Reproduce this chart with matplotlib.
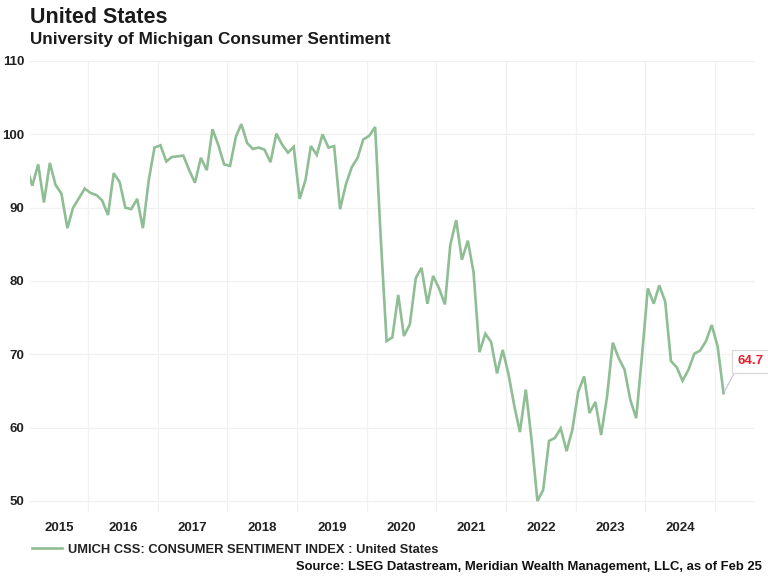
import matplotlib
matplotlib.use("Agg")
import matplotlib.pyplot as plt
import matplotlib.dates as mdates
import numpy as np
import pandas as pd

# monthly UMich consumer sentiment, Feb 2015 .. Feb 2025
start_month = "2015-02"
sentiment = [
    95.4, 93.0, 95.9, 90.7, 96.1, 93.1, 91.9, 87.2, 90.0, 91.3, 92.6,          # 2015
    92.0, 91.7, 91.0, 89.0, 94.7, 93.5, 90.0, 89.8, 91.2, 87.2, 93.8, 98.2,    # 2016
    98.5, 96.3, 96.9, 97.0, 97.1, 95.1, 93.4, 96.8, 95.1, 100.7, 98.5, 95.9,   # 2017
    95.7, 99.7, 101.4, 98.8, 98.0, 98.2, 97.9, 96.2, 100.1, 98.6, 97.5, 98.3,  # 2018
    91.2, 93.8, 98.4, 97.2, 100.0, 98.2, 98.4, 89.8, 93.2, 95.5, 96.8, 99.3,   # 2019
    99.8, 101.0, 86.0, 71.8, 72.3, 78.1, 72.5, 74.1, 80.4, 81.8, 76.9, 80.7,   # 2020
    79.0, 76.8, 84.9, 88.3, 82.9, 85.5, 81.2, 70.3, 72.8, 71.7, 67.4, 70.6,    # 2021
    67.2, 62.8, 59.4, 65.2, 58.4, 50.0, 51.5, 58.2, 58.6, 59.9, 56.8, 59.7,    # 2022
    64.9, 67.0, 62.0, 63.5, 59.0, 64.2, 71.6, 69.5, 67.9, 63.8, 61.3, 69.7,    # 2023
    79.0, 76.9, 79.4, 77.2, 69.1, 68.2, 66.4, 67.9, 70.1, 70.5, 71.8, 74.0,    # 2024
    71.1, 64.7,                                                                # 2025
]
years = list(range(2015, 2025))
yticks = [50, 60, 70, 80, 90, 100, 110]

title = "United States"
subtitle = "University of Michigan Consumer Sentiment"
series_label = "UMICH CSS: CONSUMER SENTIMENT INDEX : United States"
source = "Source: LSEG Datastream, Meridian Wealth Management, LLC, as of Feb 25"

line_color = "#8fbd94"
grid_color = "#f1f1f1"
plt.rcParams["font.family"] = ["Liberation Sans", "DejaVu Sans"]

dates = pd.date_range(start_month, periods=len(sentiment), freq="MS") + pd.Timedelta(days=14)

fig = plt.figure(figsize=(7.68, 5.77), dpi=100)
ax = fig.add_axes([30 / 768, 1 - 512 / 577, 725 / 768, 451 / 577])

ax.plot(dates, sentiment, color=line_color, lw=1.9, solid_joinstyle="miter", zorder=3)

ax.set_xlim(pd.Timestamp("2015-03-03"), pd.Timestamp("2025-07-30"))
ax.set_ylim(48.5, 110)

# gridlines at year boundaries, labels centred in each visible year
ax.xaxis.set_major_locator(mdates.YearLocator(1))
ax.xaxis.set_major_formatter(plt.NullFormatter())
xl = mdates.num2date(ax.get_xlim()[0]).replace(tzinfo=None)
centres = []
for y in years:
    a = max(pd.Timestamp(f"{y}-01-01"), pd.Timestamp(xl))
    b = pd.Timestamp(f"{y + 1}-01-01")
    centres.append(a + (b - a) / 2)
ax.set_xticks(centres, minor=True)
ax.set_xticklabels([str(y) for y in years], minor=True, fontsize=9.5,
                   fontweight="bold", color="#222222")
ax.tick_params(axis="x", which="both", length=0, pad=7)

ax.set_yticks(yticks)
ax.set_yticklabels([str(v) for v in yticks], fontsize=9.5, fontweight="bold", color="#222222")
ax.tick_params(axis="y", length=0, pad=4)

ax.grid(True, which="major", color=grid_color, lw=0.9)
for s in ax.spines.values():
    s.set_visible(False)

# last value callout
ax.annotate(f"{sentiment[-1]:.1f}", xy=(dates[-1], sentiment[-1]),
            xytext=(10, 23), textcoords="offset points",
            fontsize=9.5, fontweight="bold", color="#e8202a",
            ha="left", va="center", annotation_clip=False,
            bbox=dict(boxstyle="square,pad=0.4", fc="white", ec="#d8d8d8", lw=0.9),
            arrowprops=dict(arrowstyle="-", color="#c8c8c8", lw=0.9,
                            relpos=(0, 0), shrinkA=0, shrinkB=1))

fig.text(30 / 768, 1 - 23 / 577, title, fontsize=15.5, fontweight="bold",
         color="#1a1a1a", ha="left", va="baseline")
fig.text(30 / 768, 1 - 44 / 577, subtitle, fontsize=12.3, fontweight="bold",
         color="#1a1a1a", ha="left", va="baseline")

leg = ax.legend([series_label], loc="center left",
                bbox_to_anchor=(32 / 768, 1 - 550 / 577),
                bbox_transform=fig.transFigure, frameon=False,
                handlelength=2.3, handletextpad=0.45, borderpad=0, borderaxespad=0,
                prop=dict(weight="bold", size=9.3))
for t in leg.get_texts():
    t.set_color("#222222")

fig.text(762 / 768, 1 - 567 / 577, source, fontsize=9.4, fontweight="bold",
         color="#111111", ha="right", va="center")

fig.savefig("out.png", dpi=100, facecolor="white")
